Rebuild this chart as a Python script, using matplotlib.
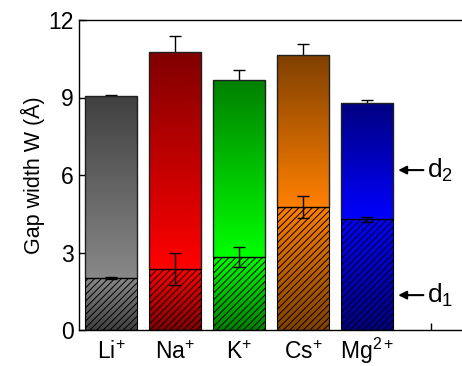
import numpy as np
import matplotlib
matplotlib.use("Agg")
import matplotlib.pyplot as plt
from matplotlib.colors import LinearSegmentedColormap

plt.rcParams['font.family'] = ['Liberation Sans', 'DejaVu Sans']
plt.rcParams['mathtext.fontset'] = 'custom'
plt.rcParams['mathtext.rm'] = 'Liberation Sans'
plt.rcParams['mathtext.it'] = 'Liberation Sans'
plt.rcParams['hatch.linewidth'] = 0.7

# ---- data ----
ions = [r'$\mathregular{Li^{+}}$', r'$\mathregular{Na^{+}}$', r'$\mathregular{K^{+}}$',
        r'$\mathregular{Cs^{+}}$', r'$\mathregular{Mg^{2+}}$']
total_w = [9.05, 10.75, 9.66, 10.63, 8.77]
total_err = [0.05, 0.62, 0.40, 0.43, 0.14]
d1_w = [2.00, 2.35, 2.81, 4.75, 4.28]
d1_err = [0.04, 0.62, 0.39, 0.43, 0.10]
dark_colors = ['#404040', '#800000', '#008000', '#804000', '#000080']
light_colors = ['#888888', '#ff0000', '#00ff00', '#ff8000', '#0000ff']
yticks = [0, 3, 6, 9, 12]

fig = plt.figure(figsize=(4.62, 3.66), dpi=100)
ax = fig.add_axes([79/462, 36/366, (462-79)/462, 310/366])

x = np.arange(1, len(ions) + 1)
width = 0.8125

upper = ax.bar(x, np.array(total_w) - np.array(d1_w), width, bottom=d1_w,
               facecolor='none', edgecolor='#202020', linewidth=1.0, zorder=3)
lower = ax.bar(x, d1_w, width, facecolor='none', edgecolor='black',
               hatch='/////', linewidth=0.8, zorder=3)

grad = np.linspace(0, 1, 256).reshape(-1, 1)
for i in range(len(ions)):
    cmap = LinearSegmentedColormap.from_list('c%d' % i, [dark_colors[i], light_colors[i]])
    b = upper[i]
    ext = [b.get_x(), b.get_x() + b.get_width(), b.get_y(), b.get_y() + b.get_height()]
    im = ax.imshow(grad, cmap=cmap, extent=ext, origin='upper', aspect='auto', zorder=2)
    im.set_clip_path(b)
    b = lower[i]
    ext = [b.get_x(), b.get_x() + b.get_width(), b.get_y(), b.get_y() + b.get_height()]
    im = ax.imshow(grad, cmap=cmap, extent=ext, origin='lower', aspect='auto', zorder=2)
    im.set_clip_path(b)

ax.errorbar(x, total_w, yerr=total_err, fmt='none', ecolor='black',
            elinewidth=1.0, capsize=4, capthick=1.0, zorder=1)
ax.errorbar(x, d1_w, yerr=d1_err, fmt='none', ecolor='black',
            elinewidth=1.0, capsize=4, capthick=1.0, zorder=4)

ax.set_xlim(0.5, 6.48)
ax.set_ylim(0, 12)
ax.set_yticks(yticks)
ax.set_xticks(list(x) + [6])
ax.set_xticklabels(ions + [''])
ax.tick_params(direction='in', length=5, width=1, labelsize=16.5)
ax.tick_params(axis='x', pad=21)
ax.tick_params(axis='y', pad=4)
for lab in ax.get_xticklabels():
    lab.set_verticalalignment('baseline')
ax.spines['right'].set_visible(False)
for s in ['left', 'bottom', 'top']:
    ax.spines[s].set_linewidth(1.0)
ax.set_ylabel('Gap width W (Å)', fontsize=15.5, labelpad=2)

ax.annotate('', xy=(5.44, 6.19), xytext=(5.92, 6.19),
            arrowprops=dict(arrowstyle='-|>', color='black', lw=1.5, mutation_scale=12))
ax.annotate('', xy=(5.44, 1.35), xytext=(5.92, 1.35),
            arrowprops=dict(arrowstyle='-|>', color='black', lw=1.5, mutation_scale=12))
ax.text(5.94, 6.19, r'$\mathregular{d_2}$', fontsize=19, va='center', ha='left')
ax.text(5.94, 1.35, r'$\mathregular{d_1}$', fontsize=19, va='center', ha='left')

fig.savefig('out.png', dpi=100)
